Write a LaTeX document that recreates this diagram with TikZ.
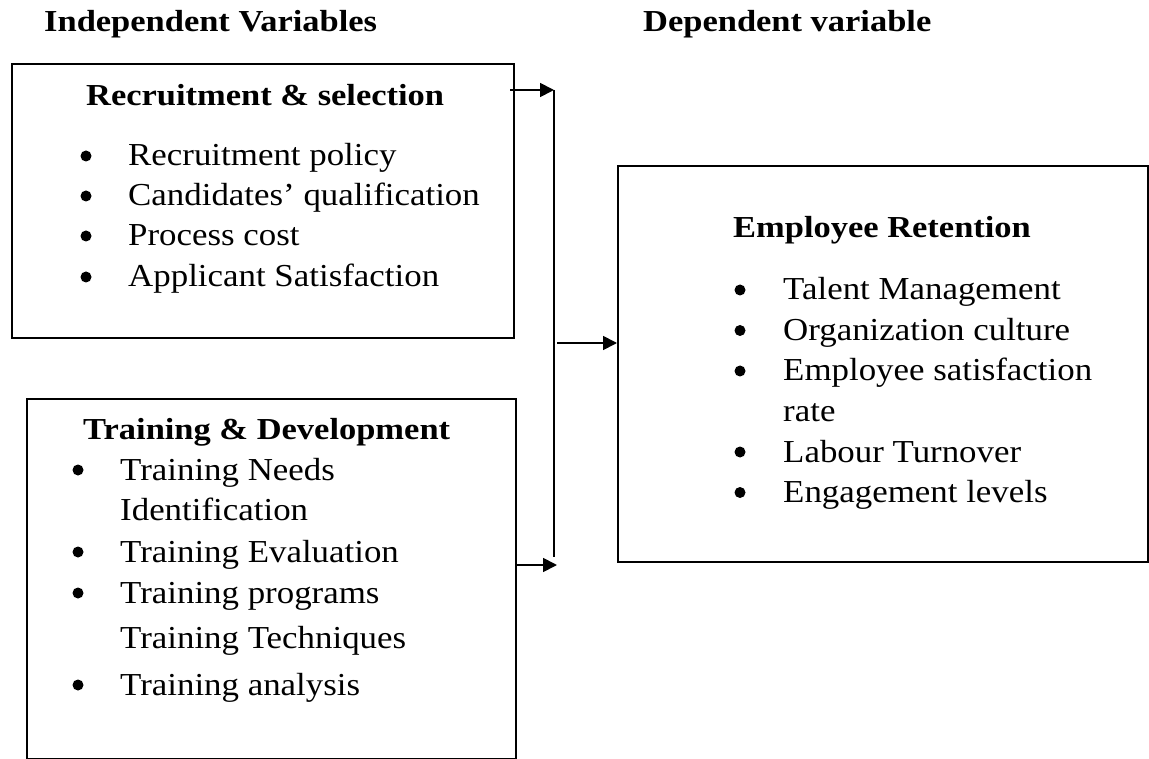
\documentclass[tikz,border=0pt]{standalone}
\usepackage{fontspec}
\setmainfont[UprightFeatures={FakeStretch=1.09},BoldFeatures={FakeStretch=1.13}]{Liberation Serif}
\usetikzlibrary{arrows.meta}

\tikzset{
  frame/.style={draw, line width=1.8pt, rectangle, inner sep=0pt, anchor=north west},
  txt/.style={inner sep=0pt, anchor=base west, font=\fontsize{32}{38}\selectfont},
  head/.style={inner sep=0pt, anchor=base west, font=\fontsize{30.5}{36}\selectfont\bfseries},
  dot/.style={circle, fill, inner sep=0pt, minimum size=11pt},
  link/.style={line width=1.8pt},
  arr/.style={link, -{Triangle[length=14pt,width=14pt]}},
}

\begin{document}
\begin{tikzpicture}[x=1pt,y=1pt]
  \useasboundingbox (0,0) rectangle (1149,-759);

  % column headings
  \node[head] (hind) at (44,-32) {Independent Variables};
  \node[head] (hdep) at (643,-32) {Dependent variable};

  % boxes
  \node[frame, minimum width=502pt, minimum height=274pt] (rs) at (11,-63) {};
  \node[frame, minimum width=489pt, minimum height=360pt] (td) at (26,-398) {};
  \node[frame, minimum width=530pt, minimum height=396pt] (er) at (617,-165) {};

  % Recruitment & selection
  \node[head] (rst) at (86,-106) {Recruitment \& selection};
  \foreach \y/\t [count=\i] in {166/Recruitment policy,206/Candidates’ qualification,246/Process cost,287/Applicant Satisfaction}{
    \node[dot] (rsb\i) at (86,-\y+10) {};
    \node[txt] (rsl\i) at (128,-\y) {\t};
  }

  % Training & Development
  \node[head] (tdt) at (83,-439) {Training \& Development};
  \foreach \y [count=\i] in {480,562,603,695}{
    \node[dot] (tdb\i) at (78,-\y+10) {};
  }
  \foreach \y/\t [count=\i] in {480/Training Needs,520/Identification,562/Training Evaluation,603/Training programs,648/Training Techniques,695/Training analysis}{
    \node[txt] (tdl\i) at (120,-\y) {\t};
  }

  % Employee Retention
  \node[head] (ert) at (733,-238) {Employee Retention};
  \foreach \y [count=\i] in {300,340.5,381,462,502.5}{
    \node[dot] (erb\i) at (740,-\y+10) {};
  }
  \foreach \y/\t [count=\i] in {300/Talent Management,340.5/Organization culture,381/Employee satisfaction,421.5/rate,462/Labour Turnover,502.5/Engagement levels}{
    \node[txt] (erl\i) at (783,-\y) {\t};
  }

  % connectors
  \coordinate (jtop) at (554,-90);
  \coordinate (jbot) at (554,-557);
  \coordinate (jmid) at (557,-343);
  \coordinate (rsout) at (510,-90);
  \coordinate (tdout) at (515,-565);
  \coordinate (tdin) at (557,-565);

  \draw[arr] (rsout) -- (jtop);
  \draw[link] (jtop) -- (jbot);
  \draw[arr] (tdout) -- (tdin);
  \draw[arr] (jmid) -- (er.west |- jmid);
\end{tikzpicture}
\end{document}
